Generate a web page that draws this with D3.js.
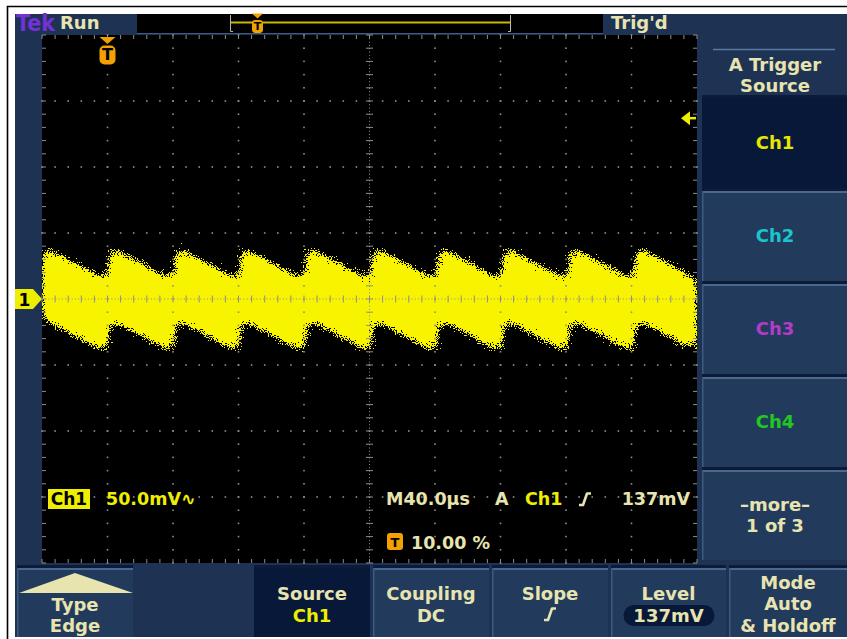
<!DOCTYPE html>
<html>
<head>
<meta charset="utf-8">
<script src="https://cdn.jsdelivr.net/npm/d3@7"></script>
<style>
  html, body { margin: 0; padding: 0; background: #ffffff; }
  svg { display: block; }
  text { font-family: "DejaVu Sans", Verdana, sans-serif; font-weight: bold; }
</style>
</head>
<body>
<svg id="scope" width="847" height="639"></svg>
<script>
// ---- Acquisition settings ----
const timePerDivUs = 40;        // M 40.0µs
const voltsPerDivMv = 50;       // Ch1 50.0mV
const triggerPosPct = 10;       // trigger point at 10 % of record
const triggerLevelMv = 137;     // A trigger level
const horizDivs = 10;
const vertDivs = 8;

// ---- Ch1 trace: sawtooth vertices (time in µs, level in mV) ----
const traceTimeUs = [-40, 0.8, 0.8, 41, 41, 81, 81, 121.3, 121.3, 161.6, 161.6,
                     201.8, 201.8, 241.6, 241.6, 281.9, 281.9, 322.1, 322.1, 360];
const traceMv     = [13, -14, 13, -14, 13, -14, 13, -14, 13, -14, 13,
                     -14, 13, -14, 13, -14, 13, -14, 13, -12.5];
const noiseMv = 27.5;           // half-width of the noise envelope

// ---- Menus ----
const rightMenuLabels = [["Ch1"], ["Ch2"], ["Ch3"], ["Ch4"], ["\u2013more\u2013", "1 of 3"]];
const rightMenuColors = ["#e6e600", "#1cc4cc", "#b23cc8", "#22c822", "#e8e4b0"];
const bottomMenuTitles = ["Type", "", "Source", "Coupling", "Slope", "Level", "Mode"];
const bottomMenuValues = [["Edge"], [], ["Ch1"], ["DC"], [], ["137mV"], ["Auto", "& Holdoff"]];

// ---- Palette ----
const PANEL = "#1e3354", BTN = "#223b5d", BEVEL = "#4a6990", SEP = "#0c1b38", SEL = "#071839";
const CREAM = "#e8e4b0", YEL = "#eeee00", ORANGE = "#f2a100", GRID = "#8e8e8e";

const svg = d3.select("#scope");

// Outer frame
svg.append("rect").attr("x", 0).attr("y", 0).attr("width", 847).attr("height", 639).attr("fill", "#fff");
svg.append("path").attr("d", "M7.5,639 V6.5 H847").attr("fill", "none").attr("stroke", "#000").attr("stroke-width", 1.6);
svg.append("rect").attr("x", 15).attr("y", 14).attr("width", 832).attr("height", 623).attr("fill", PANEL);

// Graticule geometry
const gx0 = 42, gx1 = 697, gy0 = 35, gy1 = 563;
const t0 = -triggerPosPct / 100 * horizDivs * timePerDivUs;
const x = d3.scaleLinear().domain([t0, t0 + horizDivs * timePerDivUs]).range([gx0, gx1]);
const y = d3.scaleLinear().domain([-vertDivs / 2 * voltsPerDivMv, vertDivs / 2 * voltsPerDivMv]).range([gy1, gy0]);

svg.append("rect").attr("x", gx0).attr("y", gy0).attr("width", gx1 - gx0).attr("height", gy1 - gy0).attr("fill", "#000");

// Grain filter for the persistence trace
const defs = svg.append("defs");
defs.append("clipPath").attr("id", "gratClip").append("rect")
  .attr("x", gx0).attr("y", gy0).attr("width", gx1 - gx0).attr("height", gy1 - gy0);
const f = defs.append("filter").attr("id", "grain")
  .attr("filterUnits", "userSpaceOnUse").attr("x", gx0).attr("y", gy0)
  .attr("width", gx1 - gx0).attr("height", gy1 - gy0)
  .attr("color-interpolation-filters", "sRGB");
f.append("feGaussianBlur").attr("in", "SourceAlpha").attr("stdDeviation", 6.5).attr("result", "soft");
f.append("feTurbulence").attr("type", "fractalNoise").attr("baseFrequency", 0.85)
  .attr("numOctaves", 1).attr("seed", 7).attr("result", "turb");
f.append("feColorMatrix").attr("in", "turb").attr("type", "matrix")
  .attr("values", "0 0 0 0 0  0 0 0 0 0  0 0 0 0 0  1 0 0 0 0").attr("result", "n");
f.append("feComposite").attr("in", "soft").attr("in2", "n").attr("operator", "arithmetic")
  .attr("k1", 0).attr("k2", 1.6).attr("k3", 1.9).attr("k4", -1.25).attr("result", "mix");
f.append("feComponentTransfer").attr("in", "mix").attr("result", "mask")
  .append("feFuncA").attr("type", "discrete").attr("tableValues", "0 1");
f.append("feFlood").attr("flood-color", "#f8f400").attr("result", "col");
f.append("feComposite").attr("in", "col").attr("in2", "mask").attr("operator", "in");

// Ch1 trace envelope
const trace = traceTimeUs.map((t, i) => ({ t, v: traceMv[i] }));
const band = d3.area()
  .x(d => x(d.t))
  .y0(d => y(d.v - noiseMv))
  .y1(d => y(d.v + noiseMv));
svg.append("g").attr("clip-path", "url(#gratClip)")
  .append("path").datum(trace).attr("d", band)
  .attr("fill", YEL).attr("filter", "url(#grain)");

// Graticule: dotted division lines, ticked centre lines and ticked border
const grat = svg.append("g");
const subX = (gx1 - gx0) / (horizDivs * 5), subY = (gy1 - gy0) / (vertDivs * 5);
const xc = (gx0 + gx1) / 2, yc = (gy0 + gy1) / 2;
const dots = [];
for (let k = 1; k < horizDivs; k++) {
  if (k === horizDivs / 2) continue;
  const gx = gx0 + k * (gx1 - gx0) / horizDivs;
  for (let j = 0; j <= vertDivs * 5; j++) dots.push([gx, gy0 + j * subY]);
}
for (let k = 1; k < vertDivs; k++) {
  if (k === vertDivs / 2) continue;
  const gy = gy0 + k * (gy1 - gy0) / vertDivs;
  for (let j = 0; j <= horizDivs * 5; j++) dots.push([gx0 + j * subX, gy]);
}
grat.selectAll("rect.dot").data(dots).join("rect").attr("class", "dot")
  .attr("x", d => d[0] - 0.8).attr("y", d => d[1] - 0.8).attr("width", 1.6).attr("height", 1.6).attr("fill", GRID);

// centre lines
grat.append("line").attr("x1", xc).attr("x2", xc).attr("y1", gy0).attr("y2", gy1)
  .attr("stroke", GRID).attr("stroke-width", 1).attr("stroke-dasharray", "1,2.3");
grat.append("line").attr("x1", gx0).attr("x2", gx1).attr("y1", yc).attr("y2", yc)
  .attr("stroke", GRID).attr("stroke-width", 1).attr("stroke-dasharray", "1,2.3");
const ticks = [];
for (let j = 0; j <= vertDivs * 5; j++) {
  const ty = gy0 + j * subY;
  ticks.push([xc - 3.5, ty, xc + 3.5, ty]);
  ticks.push([gx0, ty, gx0 + 4, ty]);
  ticks.push([gx1 - 4, ty, gx1, ty]);
}
for (let j = 0; j <= horizDivs * 5; j++) {
  const tx = gx0 + j * subX;
  ticks.push([tx, yc - 3.5, tx, yc + 3.5]);
  ticks.push([tx, gy0, tx, gy0 + 4]);
  ticks.push([tx, gy1 - 4, tx, gy1]);
}
grat.selectAll("line.tick").data(ticks).join("line").attr("class", "tick")
  .attr("x1", d => d[0]).attr("y1", d => d[1]).attr("x2", d => d[2]).attr("y2", d => d[3])
  .attr("stroke", GRID).attr("stroke-width", 1);

// ---- Top status bar ----
svg.append("text").attr("x", 16).attr("y", 31).attr("font-size", 23).attr("fill", "#7432d6")
  .attr("textLength", 39).attr("lengthAdjust", "spacingAndGlyphs").text("Tek");
svg.append("text").attr("x", 60).attr("y", 29).attr("font-size", 18).attr("fill", CREAM).text("Run");
svg.append("rect").attr("x", 137).attr("y", 14).attr("width", 466).attr("height", 19).attr("fill", "#000");
svg.append("line").attr("x1", 137).attr("x2", 603).attr("y1", 33.5).attr("y2", 33.5).attr("stroke", "#3b5a84").attr("stroke-width", 1);
// record view: acquired window and trigger point
const rx = d3.scaleLinear().domain([0, 100]).range([230, 510]);
svg.append("line").attr("x1", rx(0)).attr("x2", rx(100)).attr("y1", 22.5).attr("y2", 22.5)
  .attr("stroke", "#c8b800").attr("stroke-width", 2);
svg.append("path").attr("d", `M${rx(0) + 0.5},15 V31.5 H${rx(0) + 3}`).attr("fill", "none").attr("stroke", "#b8b8a8").attr("stroke-width", 1);
svg.append("path").attr("d", `M${rx(100) + 0.5},15 V31.5 H${rx(100) - 2}`).attr("fill", "none").attr("stroke", "#b8b8a8").attr("stroke-width", 1);

function trigMarker(g, cx, top, w, tri, box) {
  g.append("path").attr("d", `M${cx - w / 2},${top} H${cx + w / 2} L${cx},${top + tri} Z`).attr("fill", ORANGE);
  g.append("rect").attr("x", cx - w / 2).attr("y", top + tri + 1.5).attr("width", w).attr("height", box)
    .attr("rx", w / 3.2).attr("fill", ORANGE);
  g.append("text").attr("x", cx).attr("y", top + tri + 1.5 + box * 0.78).attr("text-anchor", "middle")
    .attr("font-size", box * 0.85).attr("fill", "#000").text("T");
}
trigMarker(svg, rx(triggerPosPct) - 0.5, 13.5, 11, 5, 13);
trigMarker(svg, x(0), 37, 16, 7, 19);

svg.append("text").attr("x", 611).attr("y", 29).attr("font-size", 18).attr("fill", CREAM).text("Trig'd");

// ---- Ch1 ground marker and trigger-level arrow ----
const y0 = y(0);
svg.append("path").attr("d", `M15,${y0 - 10} H33 L${gx0},${y0} L33,${y0 + 10} H15 Z`).attr("fill", YEL);
svg.append("text").attr("x", 24.5).attr("y", y0 + 6.5).attr("text-anchor", "middle").attr("font-size", 17).attr("fill", "#000").text("1");
const yt = y(triggerLevelMv);
svg.append("path").attr("d", `M681,${yt} L690,${yt - 7} V${yt + 7} Z`).attr("fill", YEL);
svg.append("line").attr("x1", 688).attr("x2", 696).attr("y1", yt).attr("y2", yt).attr("stroke", YEL).attr("stroke-width", 2.5);

// ---- Readouts ----
function slopeGlyph(g, sx, sy, color) {
  g.append("path").attr("d", `M${sx},${sy + 13} H${sx + 4} L${sx + 8},${sy + 1.5} H${sx + 12}`)
    .attr("fill", "none").attr("stroke", color).attr("stroke-width", 2.6).attr("stroke-linejoin", "round");
}
svg.append("rect").attr("x", 48).attr("y", 489).attr("width", 42).attr("height", 20).attr("fill", YEL);
svg.append("text").attr("x", 69).attr("y", 505).attr("text-anchor", "middle").attr("font-size", 17).attr("fill", "#000").text("Ch1");
svg.append("text").attr("x", 106).attr("y", 505).attr("font-size", 17.5).attr("fill", YEL)
  .text(`${voltsPerDivMv.toFixed(1)}mV\u223F`);
svg.append("text").attr("x", 386).attr("y", 505).attr("font-size", 17.5).attr("fill", CREAM)
  .text(`M${timePerDivUs.toFixed(1)}\u00B5s`);
svg.append("text").attr("x", 495).attr("y", 505).attr("font-size", 17.5).attr("fill", CREAM).text("A");
svg.append("text").attr("x", 525).attr("y", 505).attr("font-size", 17.5).attr("fill", YEL).text("Ch1");
slopeGlyph(svg, 579, 492, CREAM);
svg.append("text").attr("x", 690).attr("y", 505).attr("text-anchor", "end").attr("font-size", 17.5).attr("fill", CREAM)
  .text(`${triggerLevelMv}mV`);
svg.append("rect").attr("x", 387).attr("y", 533).attr("width", 16).attr("height", 17).attr("rx", 3).attr("fill", ORANGE);
svg.append("text").attr("x", 395).attr("y", 547).attr("text-anchor", "middle").attr("font-size", 13).attr("fill", "#000").text("T");
svg.append("text").attr("x", 411).attr("y", 549).attr("font-size", 17.5).attr("fill", CREAM)
  .text(`${triggerPosPct.toFixed(2)} %`);

// ---- Right-hand menu ----
svg.append("line").attr("x1", 713).attr("x2", 835).attr("y1", 49.5).attr("y2", 49.5).attr("stroke", "#5a78a0").attr("stroke-width", 1.5);
svg.append("text").attr("x", 775).attr("y", 71).attr("text-anchor", "middle").attr("font-size", 18).attr("fill", CREAM).text("A Trigger");
svg.append("text").attr("x", 775).attr("y", 92).attr("text-anchor", "middle").attr("font-size", 18).attr("fill", CREAM).text("Source");

function button(g, bx, by, bw, bh, selected) {
  g.append("rect").attr("x", bx).attr("y", by - 3).attr("width", bw).attr("height", 3).attr("fill", SEP);
  g.append("rect").attr("x", bx).attr("y", by).attr("width", bw).attr("height", bh).attr("fill", selected ? SEL : BTN);
  if (!selected) {
    g.append("rect").attr("x", bx).attr("y", by).attr("width", bw).attr("height", 2).attr("fill", BEVEL);
    g.append("rect").attr("x", bx).attr("y", by).attr("width", 1.5).attr("height", bh).attr("fill", "#3d5a80");
  }
}
const rightTops = [98, 191, 284, 377, 470];
rightMenuLabels.forEach((lines, i) => {
  const top = rightTops[i], h = (i < 4 ? rightTops[i + 1] - 3 : 560) - top;
  button(svg, 702, top, 145, h, i === 0);
  const mid = top + h / 2;
  lines.forEach((s, k) => {
    svg.append("text").attr("x", 775).attr("y", mid + 6 + (k - (lines.length - 1) / 2) * 21)
      .attr("text-anchor", "middle").attr("font-size", 18).attr("fill", rightMenuColors[i]).text(s);
  });
});

// ---- Bottom menu ----
const bottomX = [17, 135, 254, 373, 492, 611, 729];
const bottomW = [116, 117, 116, 116, 116, 115, 118];
bottomMenuTitles.forEach((title, i) => {
  const bx = bottomX[i], bw = bottomW[i], cx = bx + bw / 2;
  if (i === 1) return;             // empty slot
  button(svg, bx, 568, bw, 69, i === 2);
  const vals = bottomMenuValues[i];
  if (i === 0) {
    svg.append("path").attr("d", `M${bx + 2},593 L${cx},573 L${bx + bw},593 Z`).attr("fill", CREAM);
    svg.append("text").attr("x", cx).attr("y", 611).attr("text-anchor", "middle").attr("font-size", 18).attr("fill", CREAM).text(title);
    svg.append("text").attr("x", cx).attr("y", 632).attr("text-anchor", "middle").attr("font-size", 18).attr("fill", CREAM).text(vals[0]);
    return;
  }
  if (i === 6) {
    svg.append("text").attr("x", cx).attr("y", 589).attr("text-anchor", "middle").attr("font-size", 18).attr("fill", CREAM).text(title);
    svg.append("text").attr("x", cx).attr("y", 610).attr("text-anchor", "middle").attr("font-size", 18).attr("fill", CREAM).text(vals[0]);
    svg.append("text").attr("x", cx).attr("y", 632).attr("text-anchor", "middle").attr("font-size", 18).attr("fill", CREAM).text(vals[1]);
    return;
  }
  svg.append("text").attr("x", cx).attr("y", 600).attr("text-anchor", "middle").attr("font-size", 18).attr("fill", CREAM).text(title);
  if (i === 4) { slopeGlyph(svg, cx - 6, 607, CREAM); return; }
  if (i === 5) {
    svg.append("rect").attr("x", cx - 45).attr("y", 605).attr("width", 91).attr("height", 21).attr("rx", 10.5).attr("fill", SEL);
  }
  svg.append("text").attr("x", cx).attr("y", 622).attr("text-anchor", "middle").attr("font-size", 18)
    .attr("fill", i === 2 ? YEL : CREAM).text(vals[0]);
});
</script>
</body>
</html>
